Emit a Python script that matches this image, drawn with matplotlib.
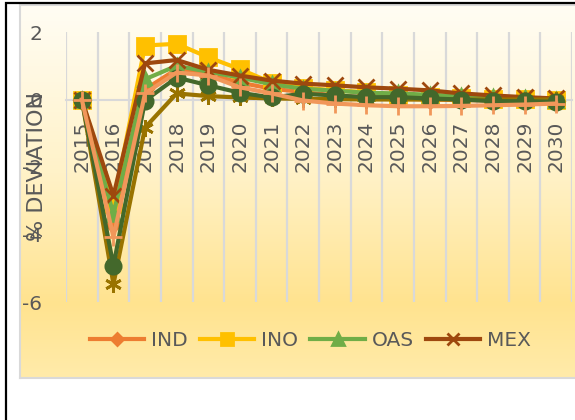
import numpy as np
import matplotlib
matplotlib.use("Agg")
import matplotlib.pyplot as plt
from matplotlib.patches import Rectangle
from matplotlib.colors import LinearSegmentedColormap

years = [str(y) for y in range(2015, 2031)]

ind = [0, -3.7, 0.3, 0.9, 0.75, 0.5, 0.32, 0.22, 0.12, 0.06, 0.02, 0.0, -0.02, -0.03, -0.03, -0.03]
ino = [0, -3.1, 1.6, 1.65, 1.25, 0.9, 0.5, 0.35, 0.27, 0.22, 0.12, 0.07, 0.04, 0.02, 0.01, 0.0]
oas = [0, -3.4, 0.6, 1.0, 0.82, 0.65, 0.45, 0.32, 0.26, 0.2, 0.18, 0.14, 0.1, 0.06, 0.03, 0.0]
mex = [0, -2.85, 1.07, 1.17, 0.88, 0.71, 0.56, 0.47, 0.42, 0.36, 0.32, 0.27, 0.18, 0.12, 0.07, 0.03]
ser5 = [0, -5.47, -0.83, 0.18, 0.1, 0.06, 0.03, 0.02, 0.01, 0.0, 0.0, 0.0, 0.0, 0.0, 0.0, 0.0]
ser6 = [0, -4.93, -0.03, 0.65, 0.42, 0.2, 0.06, 0.17, 0.12, 0.07, 0.07, 0.03, 0.0, -0.05, -0.05, -0.07]
ser7 = [0, -4.07, 0.18, 0.8, 0.71, 0.36, 0.18, -0.03, -0.12, -0.17, -0.2, -0.2, -0.19, -0.17, -0.15, -0.12]

# label, values, colour, marker, marker size
series = [
    ("IND", ind, "#ED7D31", "D", 8),
    ("INO", ino, "#FFC000", "s", 11),
    ("OAS", oas, "#70AD47", "^", 10),
    ("MEX", mex, "#9E480E", "x", 11),
    ("_s5", ser5, "#997300", (6, 2, 0), 12),
    ("_s6", ser6, "#43682B", "o", 11),
    ("_s7", ser7, "#F1975A", "+", 13),
]

fig = plt.figure(figsize=(5.75, 4.2), dpi=100)
fig.patch.set_facecolor("white")

# gradient fill behind the plot
bg = fig.add_axes([20 / 575, 42 / 420, 1.0, 373 / 420], zorder=-2)
grad = LinearSegmentedColormap.from_list(
    "warm", [(0.0, "#FFFDF4"), (0.45, "#FFF2C8"), (0.8, "#FFE38F"), (1.0, "#FFEBAA")])
bg.imshow(np.linspace(0, 1, 256).reshape(-1, 1), aspect="auto", cmap=grad,
          extent=[0, 1, 0, 1])
bg.set_xticks([])
bg.set_yticks([])
for s in bg.spines.values():
    s.set_color("#D9D9D9")
    s.set_linewidth(1.5)

# chart border
fig.patches.append(Rectangle((6 / 575, -0.1), 1.2, 1.1 - 3.5 / 420,
                             transform=fig.transFigure, fill=False,
                             edgecolor="black", linewidth=1.6, zorder=-1))

ax = fig.add_axes([66 / 575, 118 / 420, 506 / 575, 270 / 420])
ax.patch.set_alpha(0)
x = np.arange(len(years))

for label, vals, color, marker, ms in series:
    ax.plot(x, vals, color=color, lw=3.0, marker=marker, markersize=ms,
            markerfacecolor=color, markeredgecolor=color, markeredgewidth=2,
            label=label, solid_joinstyle="round")

ax.set_xlim(-0.5, len(years) - 0.5)
ax.set_ylim(-6, 2)
ax.set_yticks([2, 0, -2, -4, -6])
ax.set_yticklabels(["2", "0", "-2", "-4", "-6"])

ax.spines["bottom"].set_position(("data", 0))
ax.spines["bottom"].set_color("#D9D9D9")
ax.spines["bottom"].set_linewidth(1.5)
ax.spines["bottom"].set_zorder(0)
for side in ["top", "right", "left"]:
    ax.spines[side].set_visible(False)

ax.set_xticks(x)
ax.set_xticklabels(years, rotation=90)
ax.set_xticks(np.arange(-0.5, len(years)), minor=True)
ax.grid(which="minor", axis="x", color="#D9D9D9", lw=1.6)
ax.set_axisbelow(True)
ax.tick_params(which="both", length=0)
ax.tick_params(axis="x", pad=15, labelsize=14.5, labelcolor="#595959")
ax.tick_params(axis="y", pad=17, labelsize=14.5, labelcolor="#595959")

fig.text(37 / 575, 1 - 167 / 420, "% DEVIATION", rotation=90, ha="center",
         va="center", fontsize=16, color="#595959")

fig.legend(loc="center", bbox_to_anchor=(0.54, 79 / 420), ncol=4, frameon=False,
           fontsize=14.5, labelcolor="#595959", handlelength=2.7,
           handletextpad=0.35, columnspacing=0.6, markerscale=0.8)

fig.savefig("out.png", dpi=100)
